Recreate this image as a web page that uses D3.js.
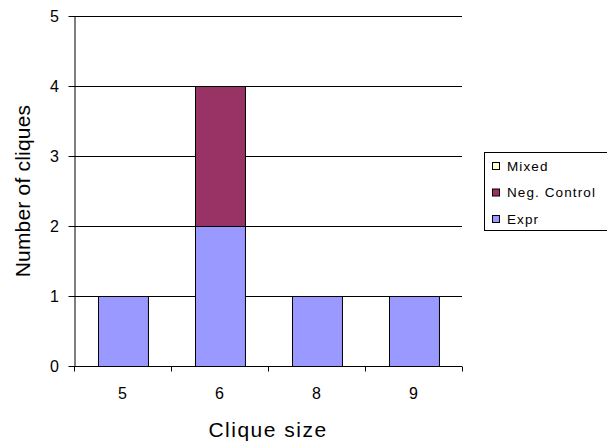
<!doctype html>
<html lang="en">
  <head>
    <meta charset="utf-8">
    <title>Clique sizes</title>
    <style>
        body { margin: 0; background: #fff; }
        svg { display: block; font-family: "Liberation Sans", Arial, sans-serif; }
        .grid line { stroke: #000; stroke-width: 1px; }
        .bar { stroke: #000; stroke-width: 1px; }
        .tick text { font-size: 16px; fill: #000; }
        .legend text { font-size: 13.5px; letter-spacing: 1.1px; }
    </style>
  </head>
  <body>
    <svg width="607" height="447"></svg>
    <script src="https://d3js.org/d3.v7.min.js"></script>
    <script>
        var cliqueSizes = ["5", "6", "8", "9"];
        var expr = [1, 2, 1, 1];
        var negControl = [0, 2, 0, 0];
        var mixed = [0, 0, 0, 0];
        var yTicks = [0, 1, 2, 3, 4, 5];

        var seriesNames = ["Expr", "Neg. Control", "Mixed"];
        var seriesColors = ["#9999FF", "#993366", "#FFFFCC"];

        var table = cliqueSizes.map((c, i) => ({
            size: c, "Expr": expr[i], "Neg. Control": negControl[i], "Mixed": mixed[i]
        }));
        var stacked = d3.stack().keys(seriesNames)(table);

        var svg = d3.select("svg");
        var plotL = 74, plotR = 462, plotT = 16, plotB = 366;

        var x = d3.scaleBand().domain(cliqueSizes).range([plotL, plotR]).paddingInner(0.485).paddingOuter(0.2425);
        var xAxisScale = d3.scaleBand().domain(cliqueSizes).range([plotL, plotR]);
        var y = d3.scaleLinear().domain([0, 5]).range([plotB, plotT]);

        // gridlines
        svg.append("g").attr("class", "grid")
            .selectAll("line")
            .data(yTicks.slice(1))
            .enter().append("line")
            .attr("x1", plotL).attr("x2", plotR)
            .attr("y1", d => Math.round(y(d)) + 0.5)
            .attr("y2", d => Math.round(y(d)) + 0.5);

        // bars
        svg.append("g")
            .selectAll("g")
            .data(stacked)
            .enter().append("g")
            .attr("fill", (d, i) => seriesColors[i])
            .selectAll("rect")
            .data(d => d.filter(p => p[1] > p[0]))
            .enter().append("rect")
            .attr("class", "bar")
            .attr("x", d => Math.round(x(d.data.size)) + 0.5)
            .attr("width", x.bandwidth())
            .attr("y", d => Math.round(y(d[1])) + 0.5)
            .attr("height", d => y(d[0]) - y(d[1]));

        // y axis
        var yAxis = svg.append("g")
            .attr("transform", "translate(" + (plotL + 0.5) + ",0)")
            .call(d3.axisLeft(y).tickValues(yTicks).tickSize(6).tickPadding(9.5).tickSizeOuter(0).tickFormat(d3.format("d")));
        yAxis.selectAll("line, path").attr("stroke", "#000");

        // x axis with ticks at category boundaries
        var xAxis = svg.append("g")
            .attr("transform", "translate(0," + (plotB + 0.5) + ")");
        xAxis.append("line").attr("x1", plotL).attr("x2", plotR).attr("stroke", "#000");
        var bounds = cliqueSizes.map(c => xAxisScale(c)).concat([plotR]);
        xAxis.selectAll(".xt")
            .data(bounds)
            .enter().append("line")
            .attr("x1", d => Math.round(d) + 0.5).attr("x2", d => Math.round(d) + 0.5)
            .attr("y1", 0).attr("y2", 5)
            .attr("stroke", "#000");
        xAxis.selectAll("text")
            .data(cliqueSizes)
            .enter().append("text")
            .attr("x", d => xAxisScale(d) + xAxisScale.bandwidth() / 2)
            .attr("y", 32.5)
            .attr("text-anchor", "middle")
            .style("font-size", "16px")
            .text(d => d);

        // axis titles
        svg.append("text")
            .attr("x", (plotL + plotR) / 2)
            .attr("y", 437)
            .attr("text-anchor", "middle")
            .style("font-size", "21px")
            .style("letter-spacing", "1.5px")
            .text("Clique size");

        svg.append("text")
            .attr("transform", "translate(30," + ((plotT + plotB) / 2) + ") rotate(-90)")
            .attr("text-anchor", "middle")
            .style("font-size", "21px")
            .style("letter-spacing", "0.2px")
            .text("Number of cliques");

        // legend
        var legend = svg.append("g").attr("class", "legend");
        legend.append("rect")
            .attr("x", 484.5).attr("y", 152.5)
            .attr("width", 130).attr("height", 78)
            .attr("fill", "#fff").attr("stroke", "#000");
        var order = seriesNames.slice().reverse();
        var items = legend.selectAll(".item")
            .data(order)
            .enter().append("g")
            .attr("transform", (d, i) => "translate(492," + (166 + i * 26.5) + ")");
        items.append("rect")
            .attr("x", 0.5).attr("y", -3.5)
            .attr("width", 7).attr("height", 7)
            .attr("fill", d => seriesColors[seriesNames.indexOf(d)])
            .attr("stroke", "#000");
        items.append("text")
            .attr("x", 15).attr("y", 4.8)
            .text(d => d);
    </script>
  </body>
</html>
